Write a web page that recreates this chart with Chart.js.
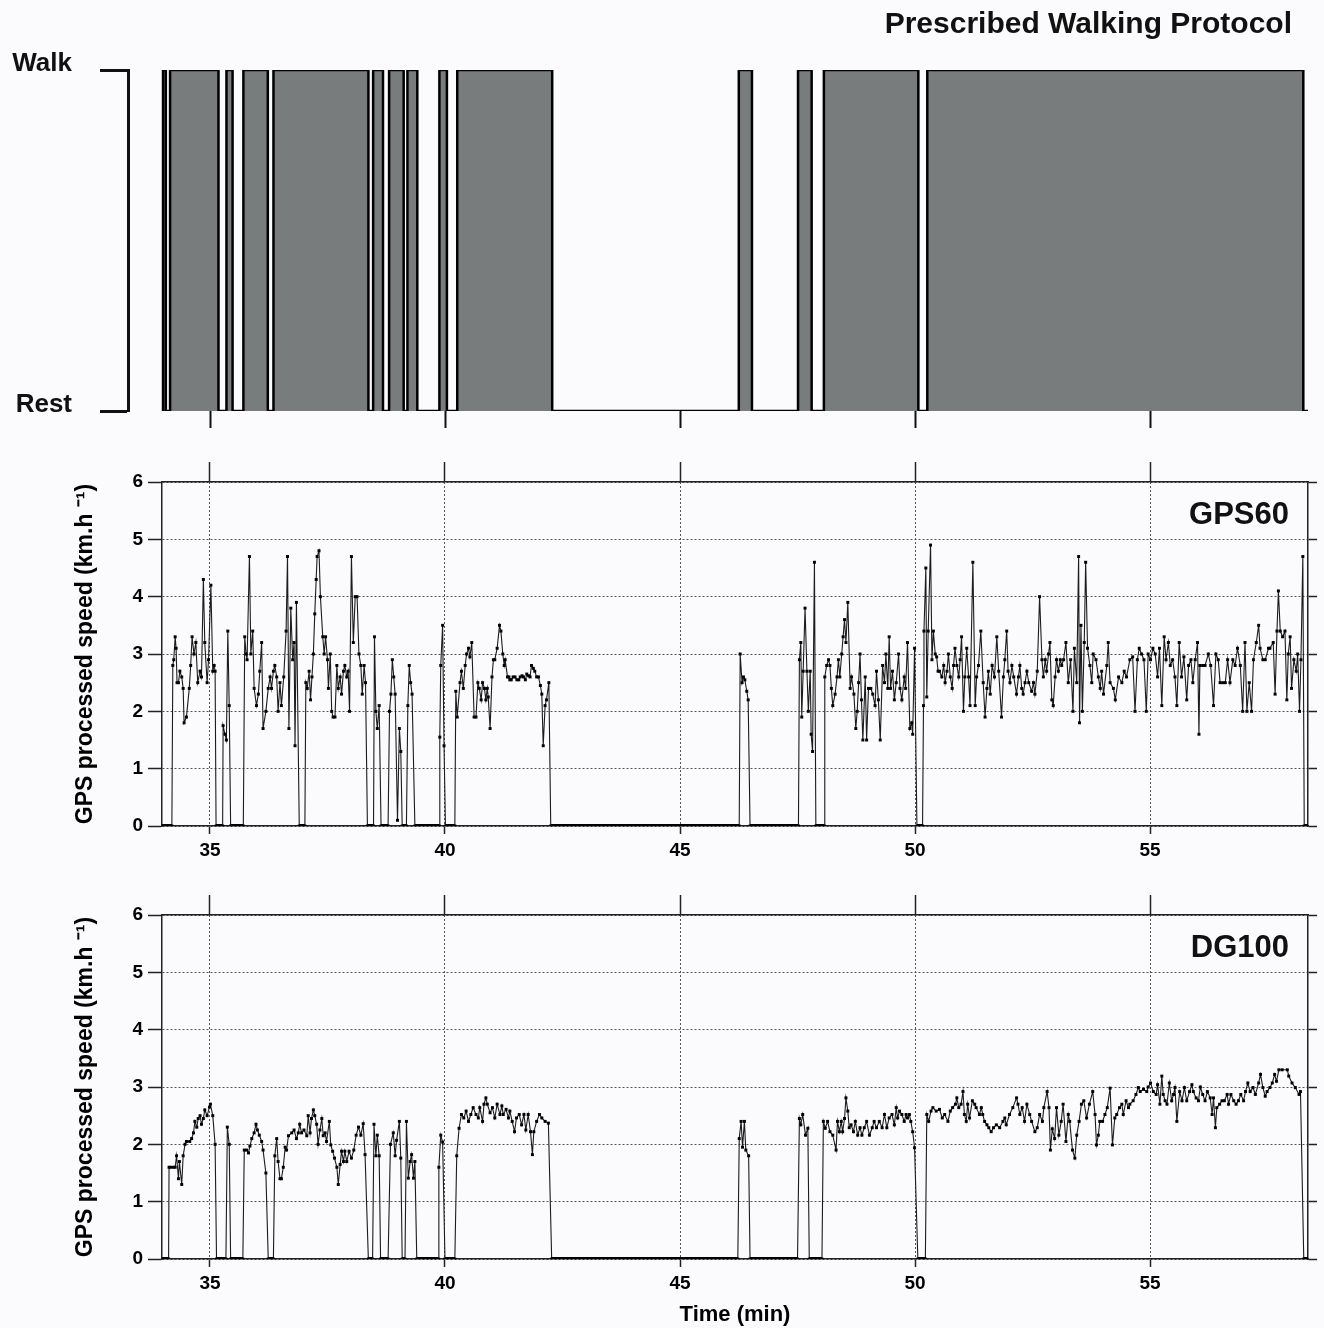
<!DOCTYPE html>
<html>
<head>
<meta charset="utf-8">
<script src="https://cdn.jsdelivr.net/npm/chart.js@4.4.1/dist/chart.umd.min.js"></script>
<style>
  html, body { margin: 0; padding: 0; background: #fbfbfd; }
  #wrap { position: relative; width: 1324px; height: 1328px; overflow: hidden; }
  canvas { position: absolute; left: 0; }
</style>
</head>
<body>
<div id="wrap">
  <canvas id="c1" width="1324" height="440" style="top:0"></canvas>
  <canvas id="c2" width="1324" height="430" style="top:440px"></canvas>
  <canvas id="c3" width="1324" height="458" style="top:870px"></canvas>
</div>
<script>
// ---------------- DATA ----------------
const xTickValues = [35, 40, 45, 50, 55];
const yTickValues = [0, 1, 2, 3, 4, 5, 6];
const protocolLabels = ['Rest', 'Walk'];

// Prescribed walking bouts (minutes)
const walkStart = [34.00, 34.15, 35.35, 35.71, 36.35, 38.47, 38.81, 39.20, 39.88, 40.26, 46.25, 47.51, 48.06, 50.26];
const walkEnd   = [34.06, 35.18, 35.48, 36.23, 38.37, 38.68, 39.12, 39.41, 40.04, 42.28, 46.53, 47.80, 50.07, 58.26];

// GPS60 processed speed [time (min), speed (km/h)]
const gps60 = [
[33.98,0],[34.19,0],[34.21,2.8],[34.23,2.9],[34.26,3.3],[34.28,3.1],[34.30,2.5],[34.33,2.5],[34.36,2.7],[34.40,2.6],[34.43,2.4],[34.45,1.8],[34.50,1.9],[34.56,2.4],[34.59,2.8],[34.62,3.3],[34.66,3.0],[34.70,3.2],[34.74,2.5],[34.79,2.7],[34.82,2.6],[34.86,4.3],[34.89,3.2],[34.94,2.5],[34.97,2.9],[35.02,4.2],[35.06,2.7],[35.09,2.8],[35.11,2.7],[35.13,0],
[35.27,0],[35.28,1.75],[35.32,1.6],[35.35,1.5],[35.38,3.4],[35.41,2.1],[35.44,0],
[35.71,0],[35.74,3.3],[35.77,3.0],[35.79,2.9],[35.84,4.7],[35.87,3.0],[35.91,3.4],[35.94,2.4],[35.99,2.1],[36.03,2.3],[36.06,2.7],[36.10,3.2],[36.13,1.7],[36.19,2.0],[36.24,2.4],[36.28,2.6],[36.31,2.4],[36.35,2.7],[36.38,2.8],[36.42,2.6],[36.45,2.0],[36.49,2.5],[36.52,2.1],[36.57,2.6],[36.62,3.4],[36.65,4.7],[36.68,1.7],[36.72,3.8],[36.76,2.9],[36.79,3.2],[36.81,1.4],[36.84,3.9],[36.90,0],
[37.02,0],[37.04,2.5],[37.07,2.4],[37.11,2.7],[37.14,2.2],[37.17,2.6],[37.20,3.0],[37.23,3.7],[37.26,4.3],[37.28,4.7],[37.32,4.8],[37.35,4.0],[37.40,3.3],[37.43,3.0],[37.46,3.3],[37.50,2.9],[37.52,2.4],[37.56,3.0],[37.59,2.0],[37.62,1.9],[37.66,1.9],[37.70,2.8],[37.73,2.4],[37.77,2.6],[37.80,2.3],[37.84,2.7],[37.87,2.8],[37.91,2.6],[37.94,2.7],[37.97,2.0],[38.01,4.7],[38.05,3.2],[38.09,4.0],[38.13,4.0],[38.17,3.0],[38.21,2.8],[38.24,2.3],[38.28,2.8],[38.31,2.5],[38.35,0],
[38.48,0],[38.50,3.3],[38.53,2.0],[38.56,1.7],[38.60,2.1],[38.64,0],
[38.79,0],[38.82,2.0],[38.85,2.3],[38.88,2.9],[38.91,2.6],[38.94,2.3],[38.99,0.1],[39.03,1.7],[39.06,1.3],[39.09,0],
[39.18,0],[39.21,2.1],[39.24,2.8],[39.27,2.5],[39.30,2.3],[39.36,0],
[39.88,0],[39.89,1.55],[39.91,2.8],[39.95,3.5],[39.98,1.4],[40.01,0],
[40.21,0],[40.23,2.35],[40.26,1.9],[40.32,2.5],[40.35,2.7],[40.39,2.4],[40.43,2.8],[40.46,3.0],[40.50,3.1],[40.53,2.95],[40.57,3.2],[40.62,1.9],[40.66,1.9],[40.70,2.5],[40.73,2.4],[40.77,2.2],[40.80,2.5],[40.84,2.4],[40.87,2.2],[40.90,2.4],[40.92,2.25],[40.96,1.7],[41.00,2.6],[41.03,2.9],[41.06,2.9],[41.11,3.1],[41.16,3.5],[41.19,3.4],[41.23,3.0],[41.26,2.8],[41.28,2.9],[41.33,2.6],[41.36,2.6],[41.38,2.55],[41.41,2.55],[41.45,2.6],[41.49,2.6],[41.53,2.55],[41.57,2.55],[41.60,2.6],[41.64,2.62],[41.67,2.6],[41.71,2.55],[41.74,2.65],[41.78,2.62],[41.81,2.6],[41.84,2.8],[41.88,2.75],[41.91,2.7],[41.95,2.6],[41.99,2.6],[42.03,2.45],[42.06,2.3],[42.09,1.4],[42.13,2.1],[42.16,2.2],[42.21,2.5],[42.25,0],
[46.26,0],[46.28,3.0],[46.32,2.5],[46.35,2.6],[46.38,2.55],[46.42,2.35],[46.45,2.2],[46.49,0],
[47.52,0],[47.54,2.9],[47.57,3.2],[47.59,1.9],[47.62,2.7],[47.66,3.8],[47.70,2.7],[47.73,2.0],[47.77,2.7],[47.79,1.6],[47.82,1.3],[47.86,4.6],[47.89,0],
[48.07,0],[48.08,2.6],[48.12,2.8],[48.16,2.9],[48.19,2.8],[48.22,2.4],[48.25,2.1],[48.30,2.3],[48.34,2.6],[48.37,2.9],[48.40,2.6],[48.44,3.0],[48.47,3.3],[48.50,3.6],[48.53,3.2],[48.57,3.9],[48.62,2.4],[48.65,2.6],[48.70,2.3],[48.74,1.7],[48.77,2.0],[48.80,2.5],[48.83,3.0],[48.86,2.2],[48.89,1.5],[48.94,2.6],[48.97,1.5],[49.01,2.4],[49.06,2.4],[49.10,2.3],[49.15,2.1],[49.18,2.7],[49.22,2.2],[49.26,1.5],[49.31,2.8],[49.35,2.5],[49.38,3.0],[49.42,2.4],[49.45,3.3],[49.48,2.4],[49.52,2.7],[49.56,2.2],[49.60,2.5],[49.65,3.0],[49.68,2.4],[49.72,2.2],[49.77,2.6],[49.80,2.4],[49.84,3.2],[49.89,1.7],[49.93,1.8],[49.95,1.6],[49.99,3.1],[50.04,0],
[50.16,0],[50.18,2.1],[50.19,3.4],[50.23,4.5],[50.25,2.25],[50.28,3.4],[50.33,4.9],[50.36,2.9],[50.39,3.4],[50.43,3.0],[50.46,2.95],[50.49,2.7],[50.52,2.7],[50.57,2.6],[50.61,2.8],[50.64,2.5],[50.68,2.7],[50.71,3.0],[50.75,2.6],[50.79,2.4],[50.82,2.8],[50.85,3.1],[50.89,2.8],[50.93,2.6],[50.96,2.9],[50.99,3.3],[51.03,2.0],[51.06,2.6],[51.10,3.1],[51.14,2.6],[51.17,2.1],[51.23,4.6],[51.28,2.1],[51.31,2.6],[51.35,2.8],[51.40,3.4],[51.45,2.5],[51.49,1.9],[51.53,2.4],[51.56,2.7],[51.60,2.3],[51.64,2.8],[51.69,2.6],[51.74,3.3],[51.78,2.7],[51.84,1.9],[51.88,2.6],[51.91,2.9],[51.95,3.4],[51.98,2.7],[52.02,2.5],[52.06,2.8],[52.10,2.6],[52.16,2.3],[52.20,2.6],[52.23,2.8],[52.27,2.4],[52.30,2.3],[52.34,2.5],[52.38,2.7],[52.42,2.5],[52.48,2.35],[52.52,2.5],[52.55,2.3],[52.60,2.7],[52.65,4.0],
[52.70,2.9],[52.73,2.6],[52.77,2.9],[52.80,2.7],[52.84,3.0],[52.87,3.2],[52.91,2.2],[52.94,2.1],[52.98,2.6],[53.01,2.9],[53.05,2.7],[53.09,2.9],[53.12,2.8],[53.16,2.9],[53.21,3.2],[53.26,2.5],[53.31,2.9],[53.36,2.0],[53.39,3.1],[53.44,2.5],[53.48,4.7],[53.50,1.8],[53.53,3.5],[53.56,2.0],[53.60,3.2],[53.63,4.6],[53.67,3.1],[53.72,2.8],[53.76,2.5],[53.79,3.0],[53.85,2.9],[53.90,2.6],[53.94,2.4],[53.97,2.7],[54.01,2.3],[54.08,2.8],[54.11,3.2],[54.15,2.5],[54.22,2.4],[54.26,2.2],[54.33,2.6],[54.40,2.5],[54.45,2.7],[54.50,2.6],[54.57,2.9],[54.63,2.95],[54.68,2.0],[54.73,2.9],[54.77,3.1],[54.82,3.0],[54.87,2.9],[54.92,2.0],[54.96,3.0],[55.01,2.9],[55.06,3.1],[55.11,3.0],[55.16,2.6],[55.20,3.1],[55.25,2.1],[55.30,3.3],[55.34,2.9],[55.39,3.2],[55.43,2.8],[55.48,2.9],[55.53,2.6],[55.57,2.1],[55.62,3.2],[55.67,2.6],[55.72,2.95],[55.78,2.2],[55.82,2.8],[55.87,2.9],[55.91,2.5],[55.96,2.9],[56.01,3.2],[56.04,1.6],[56.06,2.8],[56.12,2.8],[56.17,2.8],[56.24,3.0],[56.29,2.8],[56.35,2.1],[56.40,3.0],[56.45,2.9],[56.49,2.5],[56.55,2.5],[56.60,2.5],[56.65,2.9],[56.70,2.5],[56.76,2.9],[56.81,2.8],[56.86,3.1],[56.92,2.8],[56.97,2.0],[57.02,3.2],[57.06,2.0],[57.11,2.5],[57.16,2.0],[57.20,2.9],[57.26,3.2],[57.31,3.5],[57.34,3.1],[57.40,2.9],[57.45,2.9],[57.52,3.1],[57.55,3.1],[57.62,3.2],[57.66,2.3],[57.70,3.4],[57.73,4.1],[57.77,3.4],[57.82,3.3],[57.87,3.4],[57.91,2.2],[57.94,3.0],[57.98,3.3],[58.01,2.4],[58.06,2.9],[58.11,2.7],[58.14,3.0],[58.18,2.0],[58.21,2.9],[58.25,4.7],[58.28,0],[58.36,0]
];

// DG100 processed speed [time (min), speed (km/h)]
const dg100 = [
[33.98,0],[34.12,0],[34.13,1.6],[34.16,1.6],[34.22,1.6],[34.26,1.6],[34.29,1.8],[34.33,1.4],[34.35,1.7],[34.40,1.3],[34.43,1.8],[34.47,2.0],[34.50,2.05],[34.57,2.05],[34.61,2.1],[34.65,2.2],[34.68,2.4],[34.72,2.3],[34.75,2.45],[34.79,2.5],[34.82,2.35],[34.86,2.45],[34.89,2.6],[34.94,2.5],[34.99,2.65],[35.01,2.7],[35.06,2.5],[35.11,2.0],[35.14,0],
[35.34,0],[35.37,2.3],[35.41,2.0],[35.44,0],
[35.70,0],[35.73,1.9],[35.78,1.9],[35.82,1.85],[35.85,1.97],[35.89,2.1],[35.94,2.2],[35.98,2.35],[36.01,2.25],[36.05,2.16],[36.10,2.05],[36.13,1.9],[36.19,1.5],[36.24,0],
[36.35,0],[36.38,1.8],[36.42,2.1],[36.45,1.7],[36.49,1.4],[36.52,1.4],[36.56,1.6],[36.60,1.95],[36.63,1.9],[36.67,2.15],[36.74,2.2],[36.79,2.25],[36.84,2.1],[36.88,2.2],[36.91,2.35],[36.95,2.2],[37.00,2.25],[37.06,2.15],[37.09,2.5],[37.13,2.2],[37.16,2.45],[37.20,2.6],[37.23,2.5],[37.27,2.35],[37.30,2.0],[37.34,2.25],[37.38,2.45],[37.41,2.15],[37.45,2.2],[37.48,2.05],[37.54,2.4],[37.57,1.99],[37.61,1.88],[37.65,1.76],[37.70,1.6],[37.73,1.3],[37.77,1.65],[37.80,1.88],[37.84,1.7],[37.87,1.88],[37.91,1.7],[37.96,1.88],[38.01,1.76],[38.06,1.9],[38.11,2.16],[38.16,2.3],[38.21,2.16],[38.26,2.36],[38.30,1.82],[38.37,0],
[38.46,0],[38.49,2.35],[38.53,1.8],[38.56,2.16],[38.60,1.8],[38.63,0],
[38.79,0],[38.84,2.0],[38.90,2.2],[38.94,1.8],[38.97,2.07],[39.03,2.4],[39.06,1.76],[39.09,0],
[39.15,0],[39.18,2.4],[39.22,1.41],[39.26,1.7],[39.29,1.82],[39.33,1.41],[39.36,1.7],[39.40,0],
[39.86,0],[39.87,1.6],[39.91,2.16],[39.95,2.04],[40.00,0],
[40.21,0],[40.25,1.8],[40.30,2.28],[40.35,2.52],[40.40,2.46],[40.45,2.58],[40.50,2.4],[40.55,2.52],[40.60,2.64],[40.66,2.52],[40.71,2.46],[40.74,2.64],[40.80,2.4],[40.83,2.7],[40.87,2.81],[40.90,2.7],[40.96,2.55],[41.01,2.64],[41.06,2.46],[41.11,2.7],[41.17,2.52],[41.21,2.67],[41.24,2.52],[41.30,2.61],[41.35,2.46],[41.38,2.58],[41.43,2.4],[41.48,2.22],[41.52,2.46],[41.58,2.52],[41.63,2.34],[41.68,2.52],[41.72,2.25],[41.77,2.52],[41.82,2.22],[41.86,1.82],[41.89,2.22],[41.95,2.4],[42.01,2.52],[42.06,2.46],[42.13,2.4],[42.20,2.37],[42.27,0],
[46.23,0],[46.26,2.1],[46.30,2.4],[46.33,1.95],[46.37,2.4],[46.40,1.9],[46.46,1.8],[46.49,0],
[47.50,0],[47.54,2.45],[47.57,2.34],[47.61,2.52],[47.67,2.16],[47.72,2.28],[47.75,0],
[48.02,0],[48.05,2.4],[48.09,2.28],[48.14,2.4],[48.19,2.22],[48.25,2.16],[48.32,1.9],[48.35,2.4],[48.39,2.22],[48.43,2.4],[48.46,2.22],[48.50,2.45],[48.53,2.81],[48.57,2.58],[48.60,2.29],[48.64,2.34],[48.69,2.22],[48.73,2.4],[48.78,2.16],[48.83,2.29],[48.87,2.16],[48.92,2.29],[48.97,2.4],[49.03,2.16],[49.09,2.29],[49.13,2.4],[49.18,2.29],[49.24,2.4],[49.30,2.29],[49.35,2.52],[49.40,2.29],[49.45,2.46],[49.51,2.52],[49.56,2.34],[49.60,2.64],[49.63,2.46],[49.67,2.58],[49.72,2.52],[49.77,2.4],[49.81,2.52],[49.84,2.46],[49.88,2.52],[49.91,2.4],[49.95,2.22],[49.99,1.94],[50.06,0],
[50.22,0],[50.25,2.52],[50.29,2.4],[50.34,2.58],[50.38,2.64],[50.45,2.58],[50.52,2.61],[50.58,2.46],[50.63,2.52],[50.70,2.4],[50.75,2.58],[50.80,2.64],[50.86,2.7],[50.89,2.81],[50.93,2.64],[50.98,2.7],[51.02,2.92],[51.05,2.52],[51.09,2.4],[51.12,2.7],[51.16,2.46],[51.22,2.76],[51.27,2.7],[51.30,2.64],[51.37,2.52],[51.41,2.64],[51.44,2.52],[51.48,2.4],[51.53,2.34],[51.57,2.29],[51.62,2.22],[51.67,2.29],[51.73,2.34],[51.80,2.29],[51.87,2.4],[51.91,2.46],[51.94,2.34],[52.01,2.52],[52.08,2.64],[52.16,2.81],[52.19,2.7],[52.23,2.52],[52.28,2.64],[52.33,2.4],[52.38,2.7],[52.44,2.52],[52.48,2.4],[52.55,2.22],[52.60,2.29],[52.65,2.52],[52.71,2.4],[52.74,2.64],[52.81,2.92],[52.85,2.64],[52.88,1.9],[52.92,2.27],[52.97,2.1],[53.01,2.64],[53.06,2.16],[53.11,2.4],[53.15,2.7],[53.21,2.05],[53.26,2.52],[53.29,2.4],[53.35,1.9],[53.40,1.76],[53.44,2.16],[53.49,2.4],[53.54,2.7],[53.59,2.76],[53.65,2.46],[53.71,2.7],[53.78,2.92],[53.83,2.52],[53.86,1.99],[53.90,2.16],[53.93,2.4],[53.99,2.4],[54.04,2.52],[54.09,2.64],[54.15,2.98],[54.20,1.99],[54.25,2.46],[54.29,2.52],[54.35,2.64],[54.40,2.7],[54.43,2.52],[54.49,2.76],[54.54,2.64],[54.57,2.7],[54.64,2.76],[54.70,2.87],[54.75,2.99],[54.79,2.92],[54.86,2.96],[54.93,2.92],[54.96,3.0],[55.01,3.07],[55.07,2.92],[55.13,2.87],[55.16,3.04],[55.21,2.7],[55.25,3.19],[55.28,2.87],[55.32,2.76],[55.36,2.7],[55.41,3.07],[55.46,2.76],[55.50,2.87],[55.53,2.99],[55.57,2.4],[55.63,2.92],[55.68,2.76],[55.73,2.99],[55.78,2.76],[55.84,2.92],[55.89,3.04],[55.92,2.92],[55.98,2.81],[56.03,2.76],[56.07,3.0],[56.12,2.87],[56.17,2.76],[56.22,2.92],[56.28,2.81],[56.32,2.52],[56.35,2.81],[56.39,2.29],[56.42,2.64],[56.48,2.7],[56.53,2.76],[56.58,2.76],[56.64,2.87],[56.67,2.7],[56.72,2.87],[56.78,2.76],[56.83,2.7],[56.88,2.76],[56.93,2.87],[56.99,2.76],[57.03,2.92],[57.08,3.07],[57.13,2.92],[57.19,2.99],[57.24,2.87],[57.31,3.07],[57.35,3.22],[57.40,2.99],[57.45,2.84],[57.49,2.92],[57.55,2.99],[57.60,3.07],[57.65,3.22],[57.69,3.1],[57.74,3.3],[57.81,3.3],[57.92,3.3],[57.95,3.19],[58.02,3.07],[58.09,2.99],[58.17,2.87],[58.20,2.92],[58.27,0],[58.36,0]
];

// ---------------- RENDER ----------------
const FONT = "'Liberation Sans', Arial, Helvetica, sans-serif";
const INK = '#111';
const X_MIN = 33.98, X_MAX = 58.36, X_MIN_TOP = 33.255;

function toXY(arr) { return arr.map(p => ({ x: p[0], y: p[1] })); }

const protocolPoints = [];
walkStart.forEach((s, i) => {
  protocolPoints.push({ x: s, y: 0 }, { x: s, y: 1 }, { x: walkEnd[i], y: 1 }, { x: walkEnd[i], y: 0 });
});
protocolPoints.push({ x: X_MAX, y: 0 });

const panelLabel = {
  id: 'panelLabel',
  afterDraw(chart, args, opts) {
    if (!opts || !opts.text) return;
    const ctx = chart.ctx;
    ctx.save();
    ctx.font = opts.font;
    ctx.fillStyle = INK;
    ctx.textAlign = 'right';
    ctx.textBaseline = 'middle';
    ctx.fillText(opts.text, chart.chartArea.right - opts.dx, opts.y);
    ctx.restore();
  }
};
Chart.register(panelLabel);

const setXTicks = s => { s.ticks = xTickValues.map(v => ({ value: v })); };

// ---- Panel 1: prescribed protocol
new Chart(document.getElementById('c1'), {
  type: 'line',
  data: { datasets: [{
    data: protocolPoints, borderColor: '#000', borderWidth: 2.5, backgroundColor: '#787c7c',
    fill: 'origin', pointRadius: 0, tension: 0
  }] },
  options: {
    animation: false, responsive: false, events: [],
    layout: { padding: { top: 70, right: 16, left: 0, bottom: 0 } },
    plugins: {
      legend: { display: false }, tooltip: { enabled: false },
      panelLabel: { text: 'Prescribed Walking Protocol', font: 'bold 30px ' + FONT, dx: 16, y: 25 }
    },
    scales: {
      x: {
        type: 'linear', min: X_MIN_TOP, max: X_MAX,
        afterBuildTicks: setXTicks,
        afterFit: s => { s.height = 29; s.paddingLeft = 0; s.paddingRight = 0; },
        border: { display: false },
        grid: { drawOnChartArea: false, drawTicks: true, tickLength: 17, tickWidth: 2, tickColor: INK },
        ticks: { display: false }
      },
      y: {
        type: 'linear', min: 0, max: 1,
        afterBuildTicks: s => { s.ticks = [{ value: 0 }, { value: 1 }]; },
        afterFit: s => { s.width = 128; s.paddingTop = 0; s.paddingBottom = 0; },
        border: { display: true, color: INK, width: 3 },
        grid: { drawOnChartArea: false, tickLength: 28, tickWidth: 3, tickColor: INK },
        ticks: { callback: v => protocolLabels[v], font: { family: FONT, size: 26, weight: 'bold' }, color: INK, padding: 28, labelOffset: -6 }
      }
    }
  }
});

// ---- Panels 2 & 3: speed traces
function speedChart(id, points, label, topH, bottomH, labelY, showXTitle) {
  return new Chart(document.getElementById(id), {
    type: 'line',
    data: { datasets: [{
      data: toXY(points), borderColor: '#1c1c1c', borderWidth: 1.1, tension: 0,
      pointStyle: 'rect', pointRadius: 2.1, pointBackgroundColor: '#000', pointBorderWidth: 0,
      segment: {
        borderWidth: c => (c.p0.parsed.y === 0 && c.p1.parsed.y === 0) ? 4 : 1.1,
        borderColor: c => (c.p0.parsed.y === 0 && c.p1.parsed.y === 0) ? '#000' : '#1c1c1c'
      }
    }] },
    options: {
      animation: false, responsive: false, events: [],
      layout: { padding: 0 },
      plugins: {
        legend: { display: false }, tooltip: { enabled: false },
        panelLabel: { text: label, font: 'bold 31px ' + FONT, dx: 19, y: labelY }
      },
      scales: {
        x: {
          type: 'linear', position: 'bottom', min: X_MIN, max: X_MAX,
          afterBuildTicks: setXTicks,
          afterFit: s => { s.height = bottomH; s.paddingLeft = 0; s.paddingRight = 0; },
          border: { display: true, color: '#222', width: 1.5, dash: [2, 2] },
          grid: { color: '#555', lineWidth: 1, drawOnChartArea: true, drawTicks: true, tickLength: 8, tickWidth: 1.5, tickColor: '#222' },
          ticks: { font: { family: FONT, size: 19, weight: 'bold' }, color: '#000', padding: 5, maxRotation: 0 },
          title: { display: showXTitle, text: 'Time (min)', font: { family: FONT, size: 22, weight: 'bold' }, color: '#000', padding: { top: 0, bottom: 0 } }
        },
        x2: {
          type: 'linear', position: 'top', min: X_MIN, max: X_MAX,
          afterBuildTicks: setXTicks,
          afterFit: s => { s.height = topH; s.paddingLeft = 0; s.paddingRight = 0; },
          border: { display: true, color: '#222', width: 1.5 },
          grid: { drawOnChartArea: false, drawTicks: true, tickLength: 20, tickWidth: 1.5, tickColor: '#222' },
          ticks: { display: false }
        },
        y: {
          type: 'linear', position: 'left', min: 0, max: 6,
          afterBuildTicks: s => { s.ticks = yTickValues.map(v => ({ value: v })); },
          afterFit: s => { s.width = 162; s.paddingTop = 0; s.paddingBottom = 0; },
          border: { display: true, color: '#222', width: 1.5, dash: [2, 2] },
          grid: { color: '#555', lineWidth: 1, drawOnChartArea: true, drawTicks: true, tickLength: 14, tickWidth: 1.5, tickColor: '#222' },
          ticks: { font: { family: FONT, size: 19, weight: 'bold' }, color: '#000', padding: 5 },
          title: { display: true, text: 'GPS processed speed (km.h \u207B\u00B9)', font: { family: FONT, size: 23, weight: 'bold' }, color: '#000', padding: { top: 72, bottom: 0 } }
        },
        y2: {
          type: 'linear', position: 'right', min: 0, max: 6,
          afterBuildTicks: s => { s.ticks = yTickValues.map(v => ({ value: v })); },
          afterFit: s => { s.width = 16; s.paddingTop = 0; s.paddingBottom = 0; },
          border: { display: true, color: '#222', width: 1.5 },
          grid: { drawOnChartArea: false, drawTicks: true, tickLength: 9, tickWidth: 1.5, tickColor: '#222' },
          ticks: { display: false }
        }
      }
    }
  });
}

speedChart('c2', gps60, 'GPS60', 42, 44, 75, false);
speedChart('c3', dg100, 'DG100', 45, 69, 78, true);
</script>
</body>
</html>
